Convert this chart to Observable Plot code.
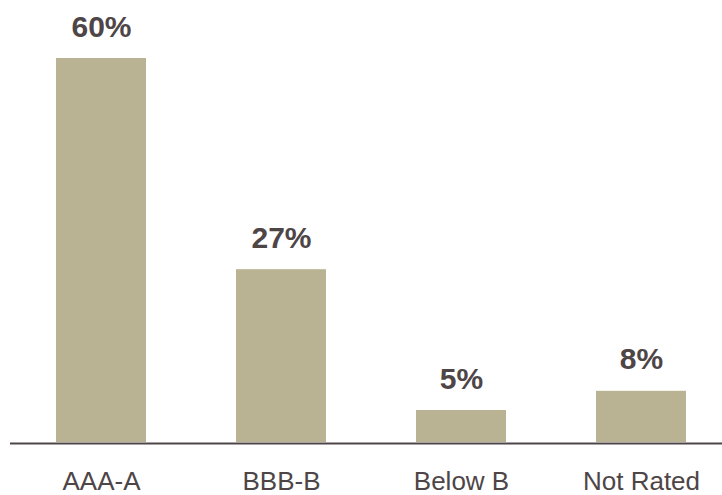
<!DOCTYPE html>
<html>
<head>
<meta charset="utf-8">
<script src="https://cdn.jsdelivr.net/npm/d3@7"></script>
<script src="https://cdn.jsdelivr.net/npm/@observablehq/plot@0.6"></script>
<style>
  html, body { margin: 0; padding: 0; background: #fff; }
  #chart svg { display: block; }
</style>
</head>
<body>
<div id="chart"></div>
<script>
const categories = ["AAA-A", "BBB-B", "Below B", "Not Rated"];
const values = [60, 27, 5, 8];
const labels = ["60%", "27%", "5%", "8%"];

const data = categories.map((c, i) => ({category: c, value: values[i], label: labels[i]}));

const textColor = "#4e4547";
const barColor = "#b9b393";

const chart = Plot.plot({
  width: 722,
  height: 495,
  marginTop: 58,
  marginBottom: 53,
  marginLeft: 10,
  marginRight: 0,
  style: {fontFamily: "'Liberation Sans', Arial, sans-serif", background: "#fff", color: textColor},
  x: {domain: categories, range: [20, 722], paddingInner: 0.5, paddingOuter: 0.2, label: null},
  y: {domain: [0, 60], axis: null},
  marks: [
    Plot.barY(data, {x: "category", y: "value", fill: barColor}),
    Plot.ruleY([0], {stroke: textColor, strokeWidth: 2, dy: 1}),
    Plot.text(data, {x: "category", y: "value", text: "label", lineAnchor: "bottom", dy: -22,
      fontSize: 30, fontWeight: "bold", fill: textColor, letterSpacing: 1.5}),
    Plot.axisX({tickSize: 0, tickPadding: 29, fontSize: 26, fill: textColor, label: null,
      style: {letterSpacing: "0.5px"}})
  ]
});
document.getElementById("chart").appendChild(chart);
</script>
</body>
</html>
